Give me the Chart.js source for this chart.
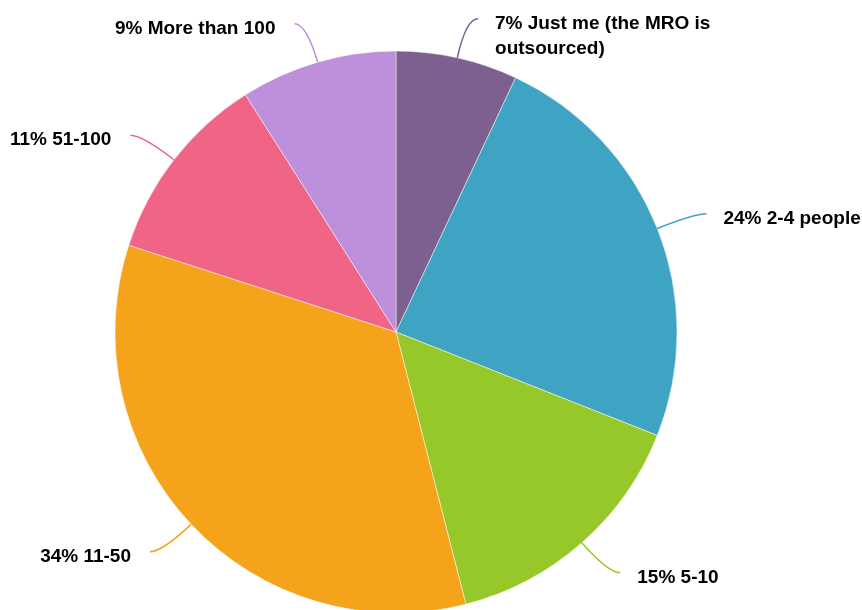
<!DOCTYPE html>
<html>
<head>
<meta charset="utf-8">
<script src="https://cdn.jsdelivr.net/npm/chart.js@4/dist/chart.umd.min.js"></script>
<style>
  html, body { margin: 0; padding: 0; background: #fff; overflow: hidden; }
  #wrap { position: relative; width: 862px; height: 610px; }
</style>
</head>
<body>
<div id="wrap"><canvas id="teamChart"></canvas></div>
<script>
(function () {
  'use strict';

  var categories = ['Just me (the MRO is outsourced)', '2-4 people', '5-10', '11-50', '51-100', 'More than 100'];
  var shares = [7, 24, 15, 34, 11, 9];
  var sliceColors = ['#7c6190', '#3fa3c3', '#96c82a', '#f5a31a', '#f06586', '#be8fdb'];

  var labelFont = 'bold 19px "Liberation Sans", Arial, Helvetica, sans-serif';

  function wrapText(ctx, text, maxWidth) {
    var words = text.split(' ');
    var lines = [];
    var line = '';
    words.forEach(function (word) {
      var test = line ? line + ' ' + word : word;
      if (line && ctx.measureText(test).width > maxWidth) {
        lines.push(line);
        line = word;
      } else {
        line = test;
      }
    });
    if (line) lines.push(line);
    return lines;
  }

  // leader lines + labels, positioned from each arc's own geometry
  var outsideLabels = {
    id: 'outsideLabels',
    afterDatasetsDraw: function (chart) {
      var ctx = chart.ctx;
      var meta = chart.getDatasetMeta(0);
      ctx.save();
      ctx.font = labelFont;
      meta.data.forEach(function (arc, i) {
        var mid = (arc.startAngle + arc.endAngle) / 2;
        var dx = Math.cos(mid);
        var dy = Math.sin(mid);
        var x0 = arc.x + arc.outerRadius * dx;
        var y0 = arc.y + arc.outerRadius * dy;
        var cx = x0 + 40 * dx;
        var cy = y0 + 40 * dy;
        var right = dx >= 0;
        var x2 = cx + (right ? 12 : -12);
        var y2 = cy;

        ctx.strokeStyle = sliceColors[i];
        ctx.lineWidth = 1.5;
        ctx.beginPath();
        ctx.moveTo(x0, y0);
        ctx.quadraticCurveTo(cx, cy, x2, y2);
        ctx.stroke();

        var text = shares[i] + '% ' + categories[i];
        var lines = wrapText(ctx, text, 225);
        ctx.fillStyle = '#000';
        ctx.textAlign = right ? 'left' : 'right';
        ctx.textBaseline = 'middle';
        var tx = right ? x2 + 17 : x2 - 19;
        lines.forEach(function (line, k) {
          ctx.fillText(line, tx, y2 + 5 + k * 25);
        });
      });
      ctx.restore();
    }
  };

  var canvas = document.getElementById('teamChart');
  canvas.width = 862;
  canvas.height = 610;

  new Chart(canvas, {
    type: 'pie',
    data: {
      labels: categories,
      datasets: [
        {
          data: shares,
          backgroundColor: sliceColors,
          borderColor: 'rgba(255, 255, 255, 0.6)',
          borderWidth: 0.8,
          radius: 281,
          clip: false,
        },
      ],
    },
    options: {
      responsive: false,
      animation: false,
      layout: { padding: { top: 54, right: 70, bottom: 0, left: 0 } },
      plugins: {
        legend: { display: false },
        tooltip: { enabled: false },
      },
    },
    plugins: [outsideLabels],
  });
})();
</script>
</body>
</html>
